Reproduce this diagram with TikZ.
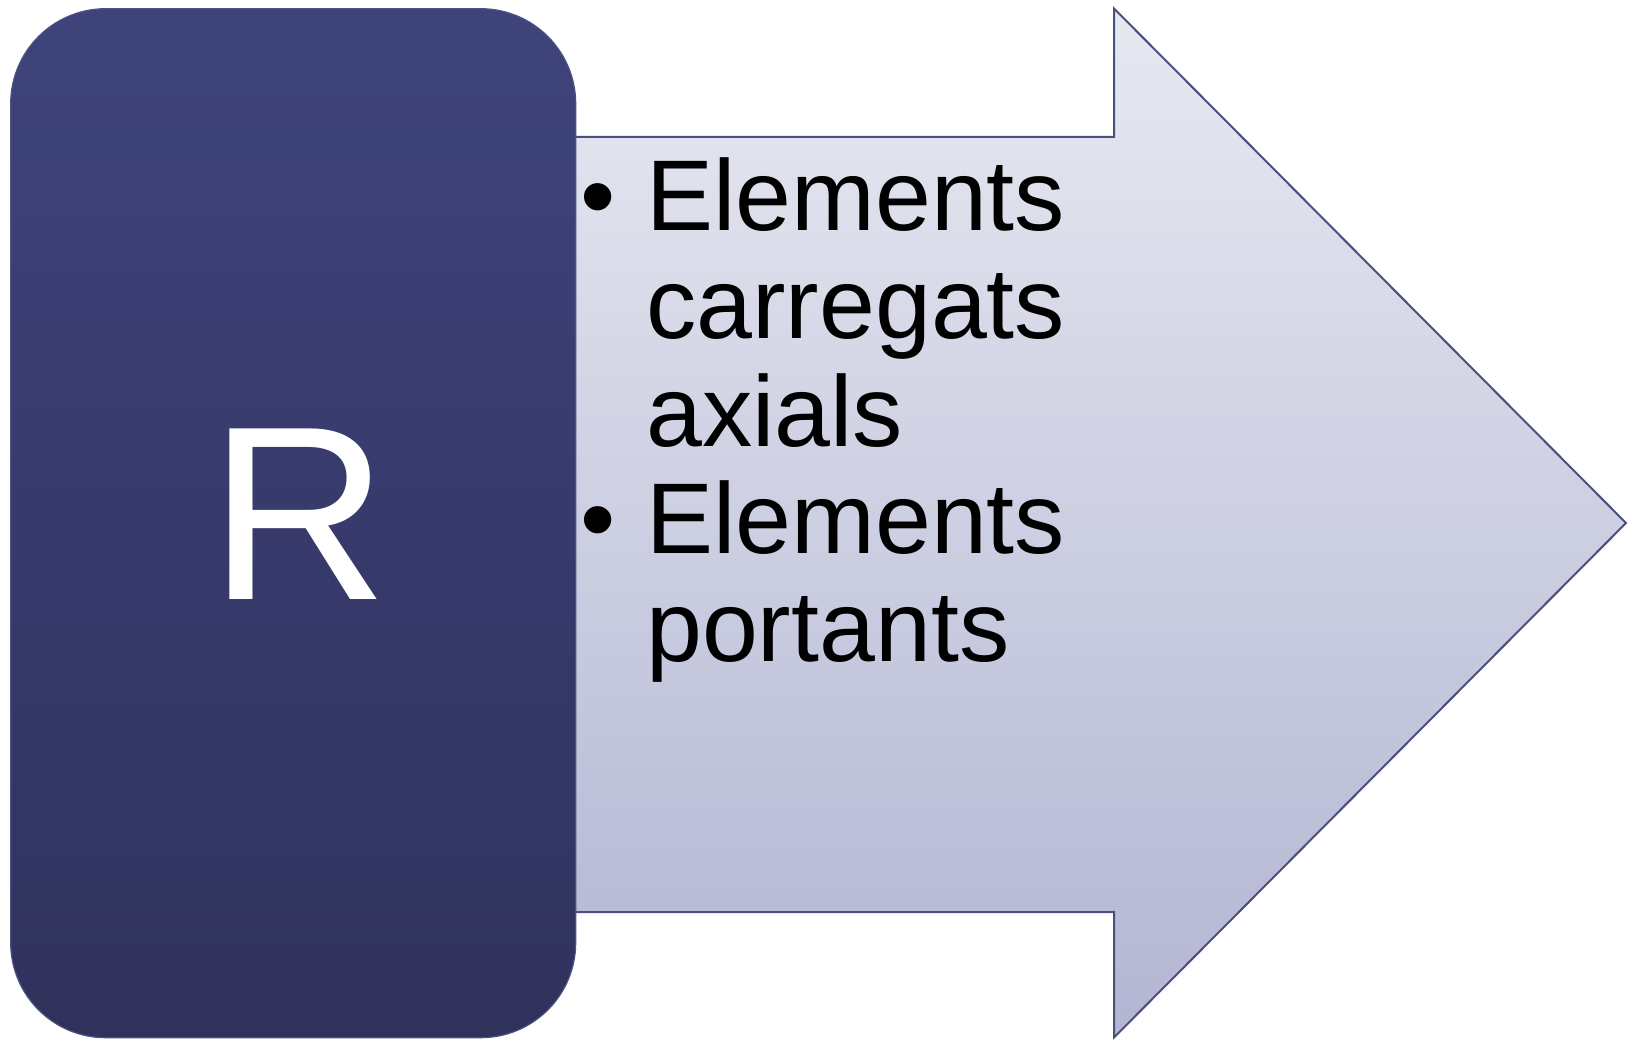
\documentclass[tikz,border=0pt]{standalone}
\usepackage{fontspec}
\setmainfont{Liberation Sans}
\usetikzlibrary{positioning}
\definecolor{boxtop}{HTML}{3E437B}
\definecolor{boxbot}{HTML}{30325C}
\definecolor{boxline}{HTML}{4D5286}
\definecolor{arrtop}{HTML}{E7E9F1}
\definecolor{arrbot}{HTML}{B3B5D3}
\definecolor{arrline}{HTML}{4A4F7E}
\tikzset{
  listline/.style={anchor=base west, inner sep=0pt, font=\fontsize{100.5}{108}\selectfont},
  listbullet/.style={anchor=base, inner sep=0pt, font=\fontsize{100.5}{108}\selectfont},
}
\begin{document}
\begin{tikzpicture}[x=1pt,y=-1pt]
  \useasboundingbox (0,0) rectangle (1628,1040);
  % big arrow
  \draw[arrline, line width=2pt, top color=arrtop, bottom color=arrbot]
    (540,137) -- (1114,137) -- (1114,8.5) -- (1626,523) -- (1114,1037.5) -- (1114,912) -- (540,912) -- cycle;
  % dark rounded box
  \node[draw=boxline, line width=1.2pt, top color=boxtop, bottom color=boxbot,
        rounded corners=95pt, minimum width=565pt, minimum height=1029pt, inner sep=0pt]
        (rbox) at (293.2,523.2) {};
  \node[anchor=base, inner sep=0pt, text=white, font=\fontsize{248}{250}\selectfont]
        (rlabel) at (299,599) {R};
  % list
  \node[listbullet] (b1) at (598,230.5) {\textbullet};
  \node[listline] (l1) at (646,230.5) {Elements};
  \node[listline] (l2) at (646,338.5) {carregats};
  \node[listline] (l3) at (646,446.5) {axials};
  \node[listbullet] (b2) at (598,553.5) {\textbullet};
  \node[listline] (l4) at (646,553.5) {Elements};
  \node[listline] (l5) at (646,661.5) {portants};
\end{tikzpicture}
\end{document}
